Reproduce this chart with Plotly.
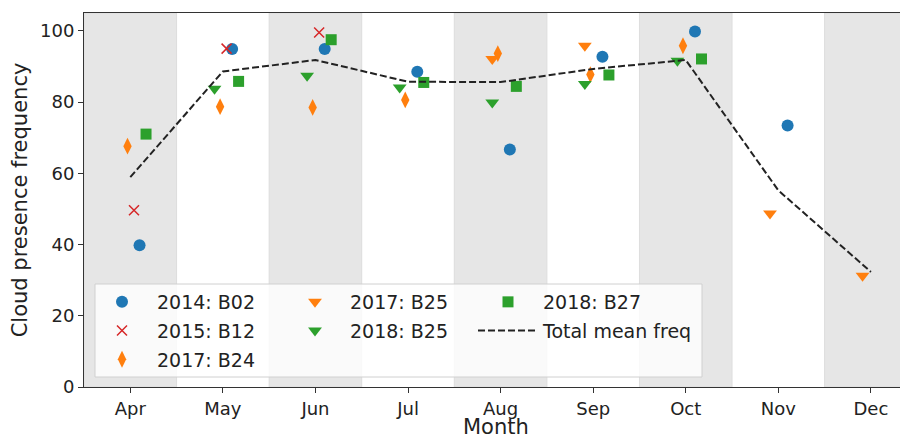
import plotly.graph_objects as go

months = ["Apr", "May", "Jun", "Jul", "Aug", "Sep", "Oct", "Nov", "Dec"]
month_num = [4, 5, 6, 7, 8, 9, 10, 11, 12]

b02_2014 = [39.8, 94.9, 94.9, 88.5, 66.7, 92.7, 99.8, 73.4, None]
b12_2015 = [49.6, 95.0, 99.5, None, None, None, None, None, None]
b24_2017 = [67.6, 78.7, 78.5, 80.6, 93.6, 87.7, 95.8, None, None]
b25_2017 = [None, None, None, None, 92.1, 95.8, None, 48.7, 31.2]
b25_2018 = [None, 83.7, 87.4, 84.1, 79.9, 85.1, 91.6, None, None]
b27_2018 = [71.0, 85.8, 97.5, 85.5, 84.4, 87.6, 92.1, None, None]
mean_freq = [58.9, 88.6, 91.8, 85.7, 85.6, 89.3, 91.8, 55.2, 32.3]

series = [
    ("2014: B02", b02_2014, 0.10, "circle", "#1f77b4", "legend"),
    ("2015: B12", b12_2015, 0.04, "x-thin", "#d62728", "legend"),
    ("2017: B24", b24_2017, -0.03, "diamond-tall", "#ff7f0e", "legend"),
    ("2017: B25", b25_2017, -0.09, "triangle-down", "#ff7f0e", "legend2"),
    ("2018: B25", b25_2018, -0.09, "triangle-down", "#2ca02c", "legend2"),
    ("2018: B27", b27_2018, 0.17, "square", "#2ca02c", "legend3"),
]

# page body has an 8px margin; plot area in window pixels: L84 R907 T13 B387
W, H = 900, 431
PL, PR, PT, PB = 84, 907, 13, 387
def fx(px):
    return (px - PL) / (PR - PL)
def fy(py):
    return (PB - py) / (PB - PT)

FONT = "DejaVu Sans"
fig = go.Figure()
for name, vals, off, sym, col, leg in series:
    xs = [m + off for m, v in zip(month_num, vals) if v is not None]
    ys = [v for v in vals if v is not None]
    if sym == "x-thin":
        marker = dict(symbol=sym, size=10, color=col, line=dict(color=col, width=1.5))
    else:
        size = {"circle": 12, "diamond-tall": 12, "triangle-down": 12, "square": 11}[sym]
        marker = dict(symbol=sym, size=size, color=col, line=dict(width=0))
    fig.add_trace(go.Scatter(x=xs, y=ys, mode="markers", name=name, marker=marker,
                             legend=leg, legendgroup=name))

fig.add_trace(go.Scatter(x=month_num, y=mean_freq, mode="lines", name="Total mean freq",
                         line=dict(color="#222222", width=2, dash="7px,3px"),
                         legend="legend3", legendgroup="mean"))

shapes = []
for m in [4, 6, 8, 10, 12]:
    shapes.append(dict(type="rect", xref="x", yref="paper", x0=m - 0.5, x1=m + 0.5, y0=0, y1=1,
                       fillcolor="#e6e6e6", line=dict(color="#dddddd", width=1), layer="below"))
# legend frame
shapes.append(dict(type="rect", xref="paper", yref="paper", x0=fx(95), x1=fx(702), y0=fy(377), y1=fy(284),
                   fillcolor="rgba(255,255,255,0.8)", line=dict(color="#d0d0d0", width=1), layer="above"))

leg_common = dict(bgcolor="rgba(0,0,0,0)", borderwidth=0, font=dict(family=FONT, size=19, color="#222"),
                  xanchor="left", yanchor="top", traceorder="grouped", tracegroupgap=1, itemwidth=60)
LY = fy(283)

fig.update_layout(
    width=W, height=H,
    margin=dict(l=PL - 8, r=W - (PR - 8), t=PT - 8, b=H - (PB - 8)),
    plot_bgcolor="white", paper_bgcolor="white",
    font=dict(family=FONT, size=18, color="#222"),
    shapes=shapes,
    legend=dict(x=fx(87), y=LY, **leg_common),
    legend2=dict(x=fx(280), y=LY, **leg_common),
    legend3=dict(x=fx(473), y=LY, **leg_common),
    annotations=[dict(text="Month", xref="paper", yref="paper", x=0.5, y=fy(427),
                      xanchor="center", yanchor="middle", showarrow=False,
                      font=dict(family=FONT, size=21, color="#222"))],
    xaxis=dict(range=[3.5, 12.39], tickmode="array", tickvals=month_num, ticktext=months,
               ticks="outside", ticklen=5, tickcolor="#333", showgrid=False, zeroline=False,
               showline=True, linecolor="#333", linewidth=1, mirror=True,
               tickfont=dict(size=18)),
    yaxis=dict(range=[0, 105], tickvals=[0, 20, 40, 60, 80, 100],
               ticks="outside", ticklen=5, tickcolor="#333", showgrid=False, zeroline=False,
               showline=True, linecolor="#333", linewidth=1, mirror=True,
               tickfont=dict(size=18), title=dict(text="Cloud presence frequency", font=dict(size=21), standoff=10)),
)

fig.write_html("out.html")
